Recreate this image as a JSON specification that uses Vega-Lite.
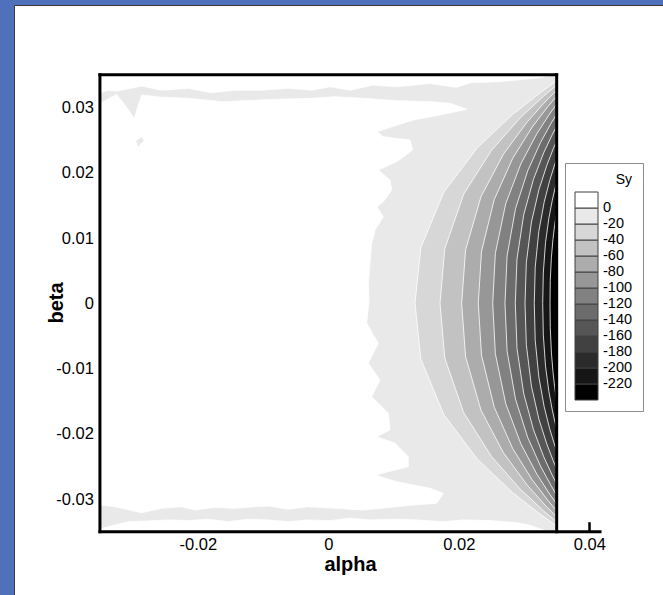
{
  "$schema": "https://vega.github.io/schema/vega-lite/v6.json",
  "width": 660,
  "height": 600,
  "autosize": {"type": "none"},
  "padding": {"left": 14, "top": 5, "right": 0, "bottom": 0},
  "background": "#4f70bb",
  "config": {
    "view": {"fill": "white", "stroke": "#3a3a3a", "strokeWidth": 1},
    "font": "Liberation Sans",
    "axis": {"grid": false, "domain": false, "zindex": 2, "labelFont": "Liberation Sans", "labelColor": "black", "titleColor": "black", "titleFont": "Liberation Sans", "tickColor": "black"}
  },
  "datasets": {
    "base": [{"a1": -0.035, "a2": 0.035, "b1": -0.035, "b2": 0.035, "s": -10}],
    "frame": [
      {"a1": -0.035, "a2": -0.035, "b1": -0.035, "b2": 0.035},
      {"a1": 0.035, "a2": 0.035, "b1": -0.035, "b2": 0.035},
      {"a1": -0.035, "a2": 0.035, "b1": 0.035, "b2": 0.035},
      {"a1": -0.035, "a2": 0.04164, "b1": -0.035, "b2": -0.035}
    ],
    "regions": [
      {"id":"w1","s":10,"a":-0.035,"b":0.035},
      {"id":"w1","s":10,"a":0.0343,"b":0.035},
      {"id":"w1","s":10,"a":0.03428,"b":0.03496},
      {"id":"w1","s":10,"a":0.03321,"b":0.03473},
      {"id":"w1","s":10,"a":0.03142,"b":0.03446},
      {"id":"w1","s":10,"a":0.02887,"b":0.0342},
      {"id":"w1","s":10,"a":0.02581,"b":0.03394},
      {"id":"w1","s":10,"a":0.02172,"b":0.03378},
      {"id":"w1","s":10,"a":0.01968,"b":0.03308},
      {"id":"w1","s":10,"a":0.01559,"b":0.03369},
      {"id":"w1","s":10,"a":0.01048,"b":0.03317},
      {"id":"w1","s":10,"a":0.0069,"b":0.03343},
      {"id":"w1","s":10,"a":0.00333,"b":0.03266},
      {"id":"w1","s":10,"a":0.00026,"b":0.03317},
      {"id":"w1","s":10,"a":-0.00254,"b":0.03266},
      {"id":"w1","s":10,"a":-0.00613,"b":0.03293},
      {"id":"w1","s":10,"a":-0.01021,"b":0.03266},
      {"id":"w1","s":10,"a":-0.0143,"b":0.03266},
      {"id":"w1","s":10,"a":-0.01787,"b":0.03225},
      {"id":"w1","s":10,"a":-0.02146,"b":0.03293},
      {"id":"w1","s":10,"a":-0.02553,"b":0.03266},
      {"id":"w1","s":10,"a":-0.0286,"b":0.03328},
      {"id":"w1","s":10,"a":-0.03238,"b":0.03251},
      {"id":"w1","s":10,"a":-0.03376,"b":0.03266},
      {"id":"w1","s":10,"a":-0.035,"b":0.03221},

      {"id":"w2","s":10,"a":-0.035,"b":-0.035},
      {"id":"w2","s":10,"a":-0.035,"b":-0.03456},
      {"id":"w2","s":10,"a":-0.03269,"b":-0.03395},
      {"id":"w2","s":10,"a":-0.03065,"b":-0.03345},
      {"id":"w2","s":10,"a":-0.02759,"b":-0.03334},
      {"id":"w2","s":10,"a":-0.02452,"b":-0.03319},
      {"id":"w2","s":10,"a":-0.02146,"b":-0.03329},
      {"id":"w2","s":10,"a":-0.01839,"b":-0.03308},
      {"id":"w2","s":10,"a":-0.01533,"b":-0.03345},
      {"id":"w2","s":10,"a":-0.01226,"b":-0.03308},
      {"id":"w2","s":10,"a":-0.0092,"b":-0.03319},
      {"id":"w2","s":10,"a":-0.00613,"b":-0.03345},
      {"id":"w2","s":10,"a":-0.00307,"b":-0.03319},
      {"id":"w2","s":10,"a":0.00026,"b":-0.0333},
      {"id":"w2","s":10,"a":0.00333,"b":-0.03292},
      {"id":"w2","s":10,"a":0.00639,"b":-0.03319},
      {"id":"w2","s":10,"a":0.01048,"b":-0.03308},
      {"id":"w2","s":10,"a":0.01355,"b":-0.03319},
      {"id":"w2","s":10,"a":0.01762,"b":-0.03345},
      {"id":"w2","s":10,"a":0.02069,"b":-0.03319},
      {"id":"w2","s":10,"a":0.02478,"b":-0.03329},
      {"id":"w2","s":10,"a":0.02887,"b":-0.0336},
      {"id":"w2","s":10,"a":0.03091,"b":-0.034},
      {"id":"w2","s":10,"a":0.03367,"b":-0.035},

      {"id":"w3","s":10,"a":-0.035,"b":0.03061},
      {"id":"w3","s":10,"a":-0.0332,"b":0.03161},
      {"id":"w3","s":10,"a":-0.03243,"b":0.03199},
      {"id":"w3","s":10,"a":-0.03116,"b":0.03038},
      {"id":"w3","s":10,"a":-0.02973,"b":0.02834},
      {"id":"w3","s":10,"a":-0.02916,"b":0.03023},
      {"id":"w3","s":10,"a":-0.0286,"b":0.03191},
      {"id":"w3","s":10,"a":-0.02553,"b":0.03156},
      {"id":"w3","s":10,"a":-0.02146,"b":0.03141},
      {"id":"w3","s":10,"a":-0.01634,"b":0.03089},
      {"id":"w3","s":10,"a":-0.01277,"b":0.03104},
      {"id":"w3","s":10,"a":-0.00766,"b":0.03126},
      {"id":"w3","s":10,"a":-0.00254,"b":0.03141},
      {"id":"w3","s":10,"a":0.00103,"b":0.03165},
      {"id":"w3","s":10,"a":0.00536,"b":0.03141},
      {"id":"w3","s":10,"a":0.01048,"b":0.03104},
      {"id":"w3","s":10,"a":0.01559,"b":0.03089},
      {"id":"w3","s":10,"a":0.01865,"b":0.03064},
      {"id":"w3","s":10,"a":0.02121,"b":0.02972},
      {"id":"w3","s":10,"a":0.01712,"b":0.02885},
      {"id":"w3","s":10,"a":0.01303,"b":0.02808},
      {"id":"w3","s":10,"a":0.00742,"b":0.02629},
      {"id":"w3","s":10,"a":0.00843,"b":0.02552},
      {"id":"w3","s":10,"a":0.01252,"b":0.02502},
      {"id":"w3","s":10,"a":0.01293,"b":0.02349},
      {"id":"w3","s":10,"a":0.01048,"b":0.02169},
      {"id":"w3","s":10,"a":0.00766,"b":0.02042},
      {"id":"w3","s":10,"a":0.00946,"b":0.01889},
      {"id":"w3","s":10,"a":0.00972,"b":0.01736},
      {"id":"w3","s":10,"a":0.00843,"b":0.01557},
      {"id":"w3","s":10,"a":0.00742,"b":0.0148},
      {"id":"w3","s":10,"a":0.00843,"b":0.01327},
      {"id":"w3","s":10,"a":0.00716,"b":0.01123},
      {"id":"w3","s":10,"a":0.00665,"b":0.00919},
      {"id":"w3","s":10,"a":0.00639,"b":0.00613},
      {"id":"w3","s":10,"a":0.00613,"b":0.00306},
      {"id":"w3","s":10,"a":0.00624,"b":0.00051},
      {"id":"w3","s":10,"a":0.00589,"b":-0.00306},
      {"id":"w3","s":10,"a":0.00766,"b":-0.00613},
      {"id":"w3","s":10,"a":0.00613,"b":-0.00919},
      {"id":"w3","s":10,"a":0.00792,"b":-0.01175},
      {"id":"w3","s":10,"a":0.00665,"b":-0.01431},
      {"id":"w3","s":10,"a":0.0092,"b":-0.01685},
      {"id":"w3","s":10,"a":0.00946,"b":-0.01941},
      {"id":"w3","s":10,"a":0.00742,"b":-0.02044},
      {"id":"w3","s":10,"a":0.01022,"b":-0.02145},
      {"id":"w3","s":10,"a":0.01226,"b":-0.0235},
      {"id":"w3","s":10,"a":0.01226,"b":-0.02503},
      {"id":"w3","s":10,"a":0.00716,"b":-0.02631},
      {"id":"w3","s":10,"a":0.01048,"b":-0.02733},
      {"id":"w3","s":10,"a":0.01559,"b":-0.02834},
      {"id":"w3","s":10,"a":0.01762,"b":-0.02911},
      {"id":"w3","s":10,"a":0.01661,"b":-0.03064},
      {"id":"w3","s":10,"a":0.01303,"b":-0.0309},
      {"id":"w3","s":10,"a":0.01048,"b":-0.03116},
      {"id":"w3","s":10,"a":0.00536,"b":-0.03167},
      {"id":"w3","s":10,"a":0.00103,"b":-0.03141},
      {"id":"w3","s":10,"a":-0.00307,"b":-0.03116},
      {"id":"w3","s":10,"a":-0.00613,"b":-0.03156},
      {"id":"w3","s":10,"a":-0.0092,"b":-0.03106},
      {"id":"w3","s":10,"a":-0.01123,"b":-0.03116},
      {"id":"w3","s":10,"a":-0.0143,"b":-0.03141},
      {"id":"w3","s":10,"a":-0.01736,"b":-0.03126},
      {"id":"w3","s":10,"a":-0.02043,"b":-0.03167},
      {"id":"w3","s":10,"a":-0.02247,"b":-0.03116},
      {"id":"w3","s":10,"a":-0.02553,"b":-0.03141},
      {"id":"w3","s":10,"a":-0.0286,"b":-0.03208},
      {"id":"w3","s":10,"a":-0.03269,"b":-0.03116},
      {"id":"w3","s":10,"a":-0.035,"b":-0.0309},

      {"id":"g1","s":-10,"a":-0.02955,"b":0.02487},
      {"id":"g1","s":-10,"a":-0.02863,"b":0.02552},
      {"id":"g1","s":-10,"a":-0.0282,"b":0.02494},
      {"id":"g1","s":-10,"a":-0.02916,"b":0.0239},

      {"id":"c20","s":-30,"a":0.035,"b":0.03404},
      {"id":"c20","s":-30,"a":0.03259,"b":0.03234},
      {"id":"c20","s":-30,"a":0.02823,"b":0.02893},
      {"id":"c20","s":-30,"a":0.02284,"b":0.02383},
      {"id":"c20","s":-30,"a":0.0177,"b":0.01702},
      {"id":"c20","s":-30,"a":0.01418,"b":0.00851},
      {"id":"c20","s":-30,"a":0.01329,"b":0},
      {"id":"c20","s":-30,"a":0.01418,"b":-0.00853},
      {"id":"c20","s":-30,"a":0.0177,"b":-0.01705},
      {"id":"c20","s":-30,"a":0.02284,"b":-0.02387},
      {"id":"c20","s":-30,"a":0.02823,"b":-0.02899},
      {"id":"c20","s":-30,"a":0.03259,"b":-0.0324},
      {"id":"c20","s":-30,"a":0.035,"b":-0.0341},

      {"id":"c40","s":-50,"a":0.035,"b":0.03343},
      {"id":"c40","s":-50,"a":0.03302,"b":0.03176},
      {"id":"c40","s":-50,"a":0.02942,"b":0.02842},
      {"id":"c40","s":-50,"a":0.02499,"b":0.0234},
      {"id":"c40","s":-50,"a":0.02075,"b":0.01672},
      {"id":"c40","s":-50,"a":0.01785,"b":0.00836},
      {"id":"c40","s":-50,"a":0.01712,"b":0},
      {"id":"c40","s":-50,"a":0.01785,"b":-0.00837},
      {"id":"c40","s":-50,"a":0.02075,"b":-0.01675},
      {"id":"c40","s":-50,"a":0.02499,"b":-0.02344},
      {"id":"c40","s":-50,"a":0.02942,"b":-0.02847},
      {"id":"c40","s":-50,"a":0.03302,"b":-0.03182},
      {"id":"c40","s":-50,"a":0.035,"b":-0.03349},

      {"id":"c60","s":-70,"a":0.035,"b":0.03266},
      {"id":"c60","s":-70,"a":0.03338,"b":0.03103},
      {"id":"c60","s":-70,"a":0.03046,"b":0.02776},
      {"id":"c60","s":-70,"a":0.02685,"b":0.02286},
      {"id":"c60","s":-70,"a":0.0234,"b":0.01633},
      {"id":"c60","s":-70,"a":0.02104,"b":0.00817},
      {"id":"c60","s":-70,"a":0.02044,"b":0},
      {"id":"c60","s":-70,"a":0.02104,"b":-0.00818},
      {"id":"c60","s":-70,"a":0.0234,"b":-0.01637},
      {"id":"c60","s":-70,"a":0.02685,"b":-0.02291},
      {"id":"c60","s":-70,"a":0.03046,"b":-0.02782},
      {"id":"c60","s":-70,"a":0.03338,"b":-0.03109},
      {"id":"c60","s":-70,"a":0.035,"b":-0.03273},

      {"id":"c80","s":-90,"a":0.035,"b":0.03175},
      {"id":"c80","s":-90,"a":0.03367,"b":0.03016},
      {"id":"c80","s":-90,"a":0.03125,"b":0.02699},
      {"id":"c80","s":-90,"a":0.02827,"b":0.02223},
      {"id":"c80","s":-90,"a":0.02543,"b":0.01588},
      {"id":"c80","s":-90,"a":0.02348,"b":0.00794},
      {"id":"c80","s":-90,"a":0.02299,"b":0},
      {"id":"c80","s":-90,"a":0.02348,"b":-0.00795},
      {"id":"c80","s":-90,"a":0.02543,"b":-0.01591},
      {"id":"c80","s":-90,"a":0.02827,"b":-0.02227},
      {"id":"c80","s":-90,"a":0.03125,"b":-0.02704},
      {"id":"c80","s":-90,"a":0.03367,"b":-0.03022},
      {"id":"c80","s":-90,"a":0.035,"b":-0.03181},

      {"id":"c100","s":-110,"a":0.035,"b":0.03052},
      {"id":"c100","s":-110,"a":0.03391,"b":0.02899},
      {"id":"c100","s":-110,"a":0.03194,"b":0.02594},
      {"id":"c100","s":-110,"a":0.02951,"b":0.02136},
      {"id":"c100","s":-110,"a":0.02719,"b":0.01526},
      {"id":"c100","s":-110,"a":0.0256,"b":0.00763},
      {"id":"c100","s":-110,"a":0.0252,"b":0},
      {"id":"c100","s":-110,"a":0.0256,"b":-0.00769},
      {"id":"c100","s":-110,"a":0.02719,"b":-0.01537},
      {"id":"c100","s":-110,"a":0.02951,"b":-0.02152},
      {"id":"c100","s":-110,"a":0.03194,"b":-0.02613},
      {"id":"c100","s":-110,"a":0.03391,"b":-0.0292},
      {"id":"c100","s":-110,"a":0.035,"b":-0.03074},

      {"id":"c120","s":-130,"a":0.035,"b":0.02899},
      {"id":"c120","s":-130,"a":0.03412,"b":0.02754},
      {"id":"c120","s":-130,"a":0.03253,"b":0.02464},
      {"id":"c120","s":-130,"a":0.03056,"b":0.02029},
      {"id":"c120","s":-130,"a":0.02869,"b":0.0145},
      {"id":"c120","s":-130,"a":0.0274,"b":0.00725},
      {"id":"c120","s":-130,"a":0.02708,"b":0},
      {"id":"c120","s":-130,"a":0.0274,"b":-0.00734},
      {"id":"c120","s":-130,"a":0.02869,"b":-0.01468},
      {"id":"c120","s":-130,"a":0.03056,"b":-0.02055},
      {"id":"c120","s":-130,"a":0.03253,"b":-0.02496},
      {"id":"c120","s":-130,"a":0.03412,"b":-0.02789},
      {"id":"c120","s":-130,"a":0.035,"b":-0.02936},

      {"id":"c140","s":-150,"a":0.035,"b":0.02715},
      {"id":"c140","s":-150,"a":0.0343,"b":0.02579},
      {"id":"c140","s":-150,"a":0.03302,"b":0.02308},
      {"id":"c140","s":-150,"a":0.03145,"b":0.01901},
      {"id":"c140","s":-150,"a":0.02995,"b":0.01358},
      {"id":"c140","s":-150,"a":0.02892,"b":0.00679},
      {"id":"c140","s":-150,"a":0.02866,"b":0},
      {"id":"c140","s":-150,"a":0.02892,"b":-0.00692},
      {"id":"c140","s":-150,"a":0.02995,"b":-0.01384},
      {"id":"c140","s":-150,"a":0.03145,"b":-0.01937},
      {"id":"c140","s":-150,"a":0.03302,"b":-0.02352},
      {"id":"c140","s":-150,"a":0.0343,"b":-0.02629},
      {"id":"c140","s":-150,"a":0.035,"b":-0.02767},

      {"id":"c160","s":-170,"a":0.035,"b":0.02486},
      {"id":"c160","s":-170,"a":0.03446,"b":0.02362},
      {"id":"c160","s":-170,"a":0.03349,"b":0.02113},
      {"id":"c160","s":-170,"a":0.03228,"b":0.0174},
      {"id":"c160","s":-170,"a":0.03113,"b":0.01243},
      {"id":"c160","s":-170,"a":0.03035,"b":0.00622},
      {"id":"c160","s":-170,"a":0.03015,"b":0},
      {"id":"c160","s":-170,"a":0.03035,"b":-0.00634},
      {"id":"c160","s":-170,"a":0.03113,"b":-0.01269},
      {"id":"c160","s":-170,"a":0.03228,"b":-0.01776},
      {"id":"c160","s":-170,"a":0.03349,"b":-0.02156},
      {"id":"c160","s":-170,"a":0.03446,"b":-0.0241},
      {"id":"c160","s":-170,"a":0.035,"b":-0.02537},

      {"id":"c180","s":-190,"a":0.035,"b":0.0221},
      {"id":"c180","s":-190,"a":0.03462,"b":0.021},
      {"id":"c180","s":-190,"a":0.03393,"b":0.01879},
      {"id":"c180","s":-190,"a":0.03308,"b":0.01547},
      {"id":"c180","s":-190,"a":0.03227,"b":0.01105},
      {"id":"c180","s":-190,"a":0.03171,"b":0.00553},
      {"id":"c180","s":-190,"a":0.03157,"b":0},
      {"id":"c180","s":-190,"a":0.03171,"b":-0.00566},
      {"id":"c180","s":-190,"a":0.03227,"b":-0.01131},
      {"id":"c180","s":-190,"a":0.03308,"b":-0.01583},
      {"id":"c180","s":-190,"a":0.03393,"b":-0.01923},
      {"id":"c180","s":-190,"a":0.03462,"b":-0.02149},
      {"id":"c180","s":-190,"a":0.035,"b":-0.02262},

      {"id":"c200","s":-210,"a":0.035,"b":0.01858},
      {"id":"c200","s":-210,"a":0.03476,"b":0.01765},
      {"id":"c200","s":-210,"a":0.03433,"b":0.01579},
      {"id":"c200","s":-210,"a":0.0338,"b":0.01301},
      {"id":"c200","s":-210,"a":0.03329,"b":0.00929},
      {"id":"c200","s":-210,"a":0.03295,"b":0.00465},
      {"id":"c200","s":-210,"a":0.03286,"b":0},
      {"id":"c200","s":-210,"a":0.03295,"b":-0.00481},
      {"id":"c200","s":-210,"a":0.03329,"b":-0.00963},
      {"id":"c200","s":-210,"a":0.0338,"b":-0.01348},
      {"id":"c200","s":-210,"a":0.03433,"b":-0.01636},
      {"id":"c200","s":-210,"a":0.03476,"b":-0.01829},
      {"id":"c200","s":-210,"a":0.035,"b":-0.01925},

      {"id":"c220","s":-230,"a":0.035,"b":0.01398},
      {"id":"c220","s":-230,"a":0.03489,"b":0.01328},
      {"id":"c220","s":-230,"a":0.03468,"b":0.01188},
      {"id":"c220","s":-230,"a":0.03443,"b":0.00979},
      {"id":"c220","s":-230,"a":0.03419,"b":0.00699},
      {"id":"c220","s":-230,"a":0.03402,"b":0.0035},
      {"id":"c220","s":-230,"a":0.03398,"b":0},
      {"id":"c220","s":-230,"a":0.03402,"b":-0.00374},
      {"id":"c220","s":-230,"a":0.03419,"b":-0.00748},
      {"id":"c220","s":-230,"a":0.03443,"b":-0.01047},
      {"id":"c220","s":-230,"a":0.03468,"b":-0.01272},
      {"id":"c220","s":-230,"a":0.03489,"b":-0.01421},
      {"id":"c220","s":-230,"a":0.035,"b":-0.01496}
    ]
  },
  "resolve": {"axis": {"x": "independent", "y": "independent"}},
  "layer": [
    {
      "data": {"name": "base"},
      "mark": {"type": "rect"},
      "encoding": {
        "x": {
          "field": "a1", "type": "quantitative",
          "scale": {"domain": [-0.048169, 0.052981], "nice": false, "zero": false},
          "axis": {
            "orient": "bottom", "offset": -73.3,
            "values": [-0.02, 0, 0.02, 0.04],
            "ticks": false, "tickSize": 0, "domain": false,
            "labelFontSize": 16.5, "labelPadding": 5, "labelFlush": false, "labelOverlap": false,
            "labelExpr": "(datum.value < 0 ? '-' : '') + format(abs(datum.value), '.2~f')",
            "title": "alpha", "titleFontSize": 20, "titleFontWeight": "bold",
            "titleX": 336, "titleY": 38.5, "titleBaseline": "alphabetic", "titleAlign": "center"
          }
        },
        "x2": {"field": "a2"},
        "y": {
          "field": "b1", "type": "quantitative",
          "scale": {"domain": [-0.046224, 0.045703], "nice": false, "zero": false},
          "axis": {
            "orient": "left", "offset": -85.9,
            "values": [-0.03, -0.02, -0.01, 0, 0.01, 0.02, 0.03],
            "ticks": false, "tickSize": 0, "domain": false,
            "labelFontSize": 16.5, "labelPadding": 6.5, "labelFlush": false, "labelOverlap": false,
            "labelExpr": "(datum.value < 0 ? '-' : '') + format(abs(datum.value), '.2~f')",
            "title": "beta", "titleFontSize": 20, "titleFontWeight": "bold",
            "titleX": -37, "titleY": 297.5, "titleAngle": -90, "titleBaseline": "alphabetic", "titleAlign": "center"
          }
        },
        "y2": {"field": "b2"},
        "color": {
          "field": "s", "type": "quantitative",
          "scale": {
            "type": "threshold",
            "domain": [-220, -200, -180, -160, -140, -120, -100, -80, -60, -40, -20, 0],
            "range": ["#000000", "#161616", "#2b2b2b", "#414141", "#565656", "#6c6c6c", "#818181", "#979797", "#acacac", "#c2c2c2", "#d7d7d7", "#e9e9e9", "#ffffff"]
          },
          "legend": {
            "type": "gradient", "direction": "vertical", "orient": "none",
            "legendX": 551, "legendY": 158,
            "title": "Sy", "titleFont": "Liberation Sans", "titleFontSize": 14, "titleFontWeight": "normal",
            "titleColor": "black", "titleAnchor": "end", "titlePadding": 5,
            "gradientLength": 208, "gradientThickness": 23,
            "gradientStrokeColor": "#404040", "gradientStrokeWidth": 1,
            "labelFont": "Liberation Sans", "labelFontSize": 14.5, "labelColor": "black",
            "labelOffset": 5, "labelOverlap": false,
            "labelExpr": "isFinite(datum.value) ? (datum.value < 0 ? '-' + format(-datum.value, 'd') : format(datum.value, 'd')) : ''",
            "padding": 10, "strokeColor": "#8c8c8c", "fillColor": "white"
          }
        }
      }
    },
    {
      "data": {"name": "regions"},
      "mark": {"type": "line", "filled": true, "interpolate": "linear-closed", "stroke": "white", "strokeWidth": 0.8},
      "encoding": {
        "x": {
          "field": "a", "type": "quantitative",
          "scale": {"domain": [-0.048169, 0.052981], "nice": false, "zero": false},
          "axis": {
            "orient": "top", "offset": -526.7,
            "values": [-0.03, -0.025, -0.02, -0.015, -0.01, -0.005, 0, 0.005, 0.01, 0.015, 0.02, 0.025, 0.03, 0.04],
            "labels": false, "title": null, "domain": false, "ticks": true,
            "tickSize": {"condition": {"test": "indexof([-0.02, 0, 0.02, 0.04], datum.value) >= 0", "value": 10}, "value": 5},
            "tickWidth": {"condition": {"test": "indexof([-0.02, 0, 0.02, 0.04], datum.value) >= 0", "value": 2.5}, "value": 1.2}
          }
        },
        "y": {
          "field": "b", "type": "quantitative",
          "scale": {"domain": [-0.046224, 0.045703], "nice": false, "zero": false},
          "axis": {
            "orient": "right", "offset": -574.1,
            "values": [-0.034, -0.032, -0.03, -0.028, -0.026, -0.024, -0.022, -0.02, -0.018, -0.016, -0.014, -0.012, -0.01, -0.008, -0.006, -0.004, -0.002, 0, 0.002, 0.004, 0.006, 0.008, 0.01, 0.012, 0.014, 0.016, 0.018, 0.02, 0.022, 0.024, 0.026, 0.028, 0.03, 0.032, 0.034],
            "labels": false, "title": null, "domain": false, "ticks": true,
            "tickSize": {"condition": {"test": "indexof([-0.03, -0.02, -0.01, 0, 0.01, 0.02, 0.03], datum.value) >= 0", "value": 10}, "value": 5},
            "tickWidth": {"condition": {"test": "indexof([-0.03, -0.02, -0.01, 0, 0.01, 0.02, 0.03], datum.value) >= 0", "value": 2.5}, "value": 1.2}
          }
        },
        "detail": {"field": "id"},
        "order": {"value": null},
        "color": {
          "field": "s", "type": "quantitative",
          "scale": {
            "type": "threshold",
            "domain": [-220, -200, -180, -160, -140, -120, -100, -80, -60, -40, -20, 0],
            "range": ["#000000", "#161616", "#2b2b2b", "#414141", "#565656", "#6c6c6c", "#818181", "#979797", "#acacac", "#c2c2c2", "#d7d7d7", "#e9e9e9", "#ffffff"]
          },
          "legend": null
        }
      }
    },
    {
      "data": {"name": "frame"},
      "mark": {"type": "rule", "color": "black", "strokeWidth": 3, "strokeCap": "square"},
      "encoding": {
        "x": {"field": "a1", "type": "quantitative", "axis": null},
        "x2": {"field": "a2"},
        "y": {"field": "b1", "type": "quantitative", "axis": null},
        "y2": {"field": "b2"}
      }
    }
  ]
}
